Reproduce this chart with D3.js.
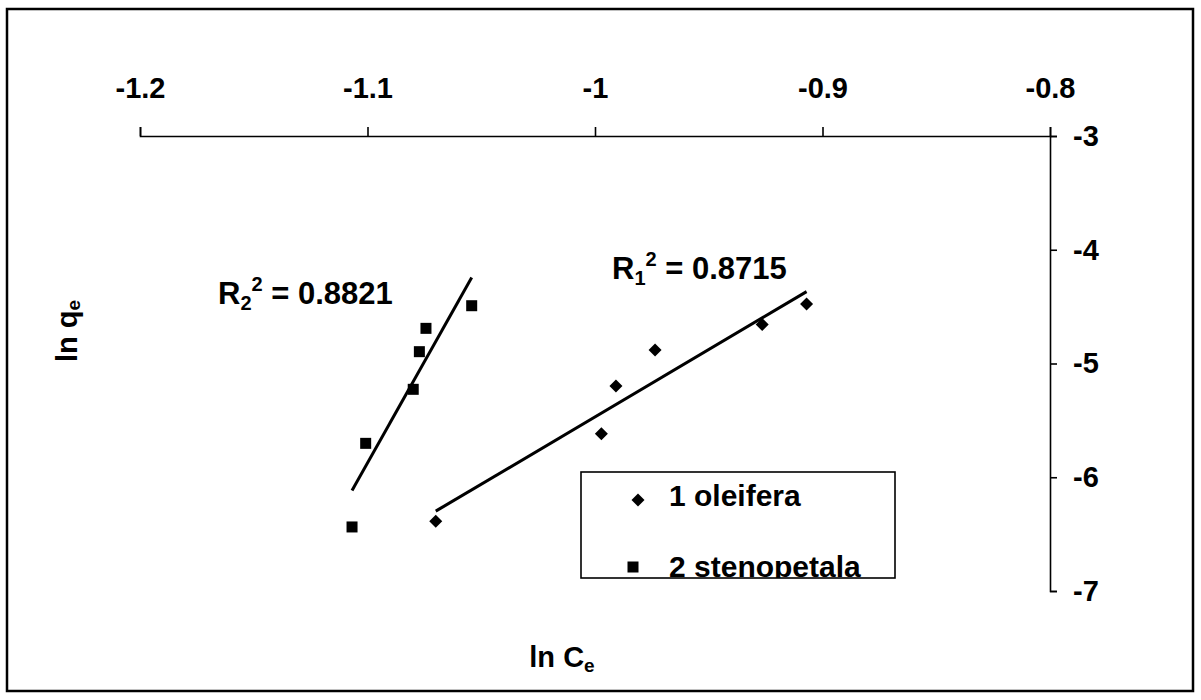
<!DOCTYPE html>
<html>
<head>
<meta charset="utf-8">
<script src="https://cdn.jsdelivr.net/npm/d3@7"></script>
<style>
  body { margin: 0; background: #fff; }
  svg { display: block; }
  text { font-family: "Liberation Sans", Arial, sans-serif; font-weight: bold; fill: #000; }
</style>
</head>
<body>
<svg id="chart" width="1201" height="700"></svg>
<script>
// Freundlich isotherm data (ln Ce vs ln qe) for two Moringa species
const xTickValues = [-1.2, -1.1, -1, -0.9, -0.8];
const yTickValues = [-3, -4, -5, -6, -7];
const seriesNames = ["1 oleifera", "2 stenopetala"];
const oleiferaLnCe = [-1.070, -0.9972, -0.9908, -0.9736, -0.9265, -0.907];
const oleiferaLnQe = [-6.387, -5.617, -5.198, -4.881, -4.658, -4.477];
const stenopetalaLnCe = [-1.1068, -1.1008, -1.0799, -1.0772, -1.0743, -1.0542];
const stenopetalaLnQe = [-6.437, -5.702, -5.227, -4.896, -4.691, -4.492];
const rSquaredValues = ["0.8715", "0.8821"];

const svg = d3.select("#chart");
const FONT = '"Liberation Sans", Arial, sans-serif';
const FS = 29;

// outer frame
svg.append("rect")
  .attr("x", 7).attr("y", 9).attr("width", 1186).attr("height", 682)
  .attr("fill", "#fff").attr("stroke", "#000").attr("stroke-width", 2.5);

const x = d3.scaleLinear().domain([-1.2, -0.8]).range([140, 1050]);
const y = d3.scaleLinear().domain([-3, -7]).range([136, 591]);

// axes: x on top, y on the right
const xAxis = svg.append("g")
  .attr("transform", `translate(0,${y(-3)})`)
  .call(d3.axisTop(x).tickValues(xTickValues).tickFormat(d => String(d))
    .tickSize(9).tickPadding(29));
const yAxis = svg.append("g")
  .attr("transform", `translate(${x(-0.8)},0)`)
  .call(d3.axisRight(y).tickValues(yTickValues).tickFormat(d => String(d))
    .tickSize(7).tickPadding(16));
[xAxis, yAxis].forEach(g => {
  g.attr("font-family", FONT).attr("font-size", FS).attr("font-weight", "bold");
  g.selectAll("path, line").attr("stroke", "#000").attr("stroke-width", 1.6);
});

// linear least-squares trend line
function fit(xs, ys) {
  const n = xs.length;
  const mx = d3.mean(xs), my = d3.mean(ys);
  let sxy = 0, sxx = 0;
  for (let i = 0; i < n; i++) { sxy += (xs[i] - mx) * (ys[i] - my); sxx += (xs[i] - mx) ** 2; }
  const slope = sxy / sxx;
  return v => my + slope * (v - mx);
}

const series = [
  { xs: oleiferaLnCe, ys: oleiferaLnQe, shape: "diamond" },
  { xs: stenopetalaLnCe, ys: stenopetalaLnQe, shape: "square" }
];

const line = d3.line().x(d => x(d[0])).y(d => y(d[1]));

function drawMarker(g, shape, cx, cy) {
  if (shape === "diamond") {
    const r = 6.5;
    g.append("path")
      .attr("d", `M${cx},${cy - r}L${cx + r},${cy}L${cx},${cy + r}L${cx - r},${cy}Z`)
      .attr("fill", "#000");
  } else {
    const s = 11;
    g.append("rect").attr("x", cx - s / 2).attr("y", cy - s / 2)
      .attr("width", s).attr("height", s).attr("fill", "#000");
  }
}

const plot = svg.append("g");
series.forEach(s => {
  const f = fit(s.xs, s.ys);
  const [lo, hi] = d3.extent(s.xs);
  plot.append("path")
    .attr("d", line([[lo, f(lo)], [hi, f(hi)]]))
    .attr("stroke", "#000").attr("stroke-width", 3).attr("fill", "none");
  s.xs.forEach((v, i) => drawMarker(plot, s.shape, x(v), y(s.ys[i])));
});

// R² annotations
function rLabel(px, py, idx, value) {
  const t = svg.append("text").attr("x", px).attr("y", py).attr("font-size", 31);
  t.append("tspan").text("R");
  t.append("tspan").attr("font-size", 20).attr("dy", 6).text(idx);
  t.append("tspan").attr("font-size", 20).attr("dy", -19).text("2");
  t.append("tspan").attr("dy", 13).text(" = " + value);
}
rLabel(612, 279, "1", rSquaredValues[0]);
rLabel(218, 304, "2", rSquaredValues[1]);

// axis titles
const xt = svg.append("text").attr("x", 562).attr("y", 667)
  .attr("text-anchor", "middle").attr("font-size", FS);
xt.append("tspan").text("ln C");
xt.append("tspan").attr("font-size", 19).attr("dy", 5).text("e");

const yt = svg.append("text")
  .attr("transform", "translate(77,331) rotate(-90)")
  .attr("text-anchor", "middle").attr("font-size", FS);
yt.append("tspan").text("ln q");
yt.append("tspan").attr("font-size", 19).attr("dy", 3).text("e");

// legend (content clipped to its box)
const lg = { x: 581, y: 472, w: 314, h: 106 };
svg.append("clipPath").attr("id", "legend-clip")
  .append("rect").attr("x", lg.x).attr("y", lg.y).attr("width", lg.w).attr("height", lg.h);
svg.append("rect").attr("x", lg.x).attr("y", lg.y).attr("width", lg.w).attr("height", lg.h)
  .attr("fill", "#fff");
const legend = svg.append("g").attr("clip-path", "url(#legend-clip)");
const rows = [
  { shape: "diamond", mx: 638, my: 500, ty: 506 },
  { shape: "square", mx: 633, my: 567, ty: 577 }
];
rows.forEach((r, i) => {
  drawMarker(legend, r.shape, r.mx, r.my);
  legend.append("text").attr("x", 669).attr("y", r.ty).attr("font-size", 30).text(seriesNames[i]);
});
svg.append("rect").attr("x", lg.x).attr("y", lg.y).attr("width", lg.w).attr("height", lg.h)
  .attr("fill", "none").attr("stroke", "#000").attr("stroke-width", 1.6);
</script>
</body>
</html>
